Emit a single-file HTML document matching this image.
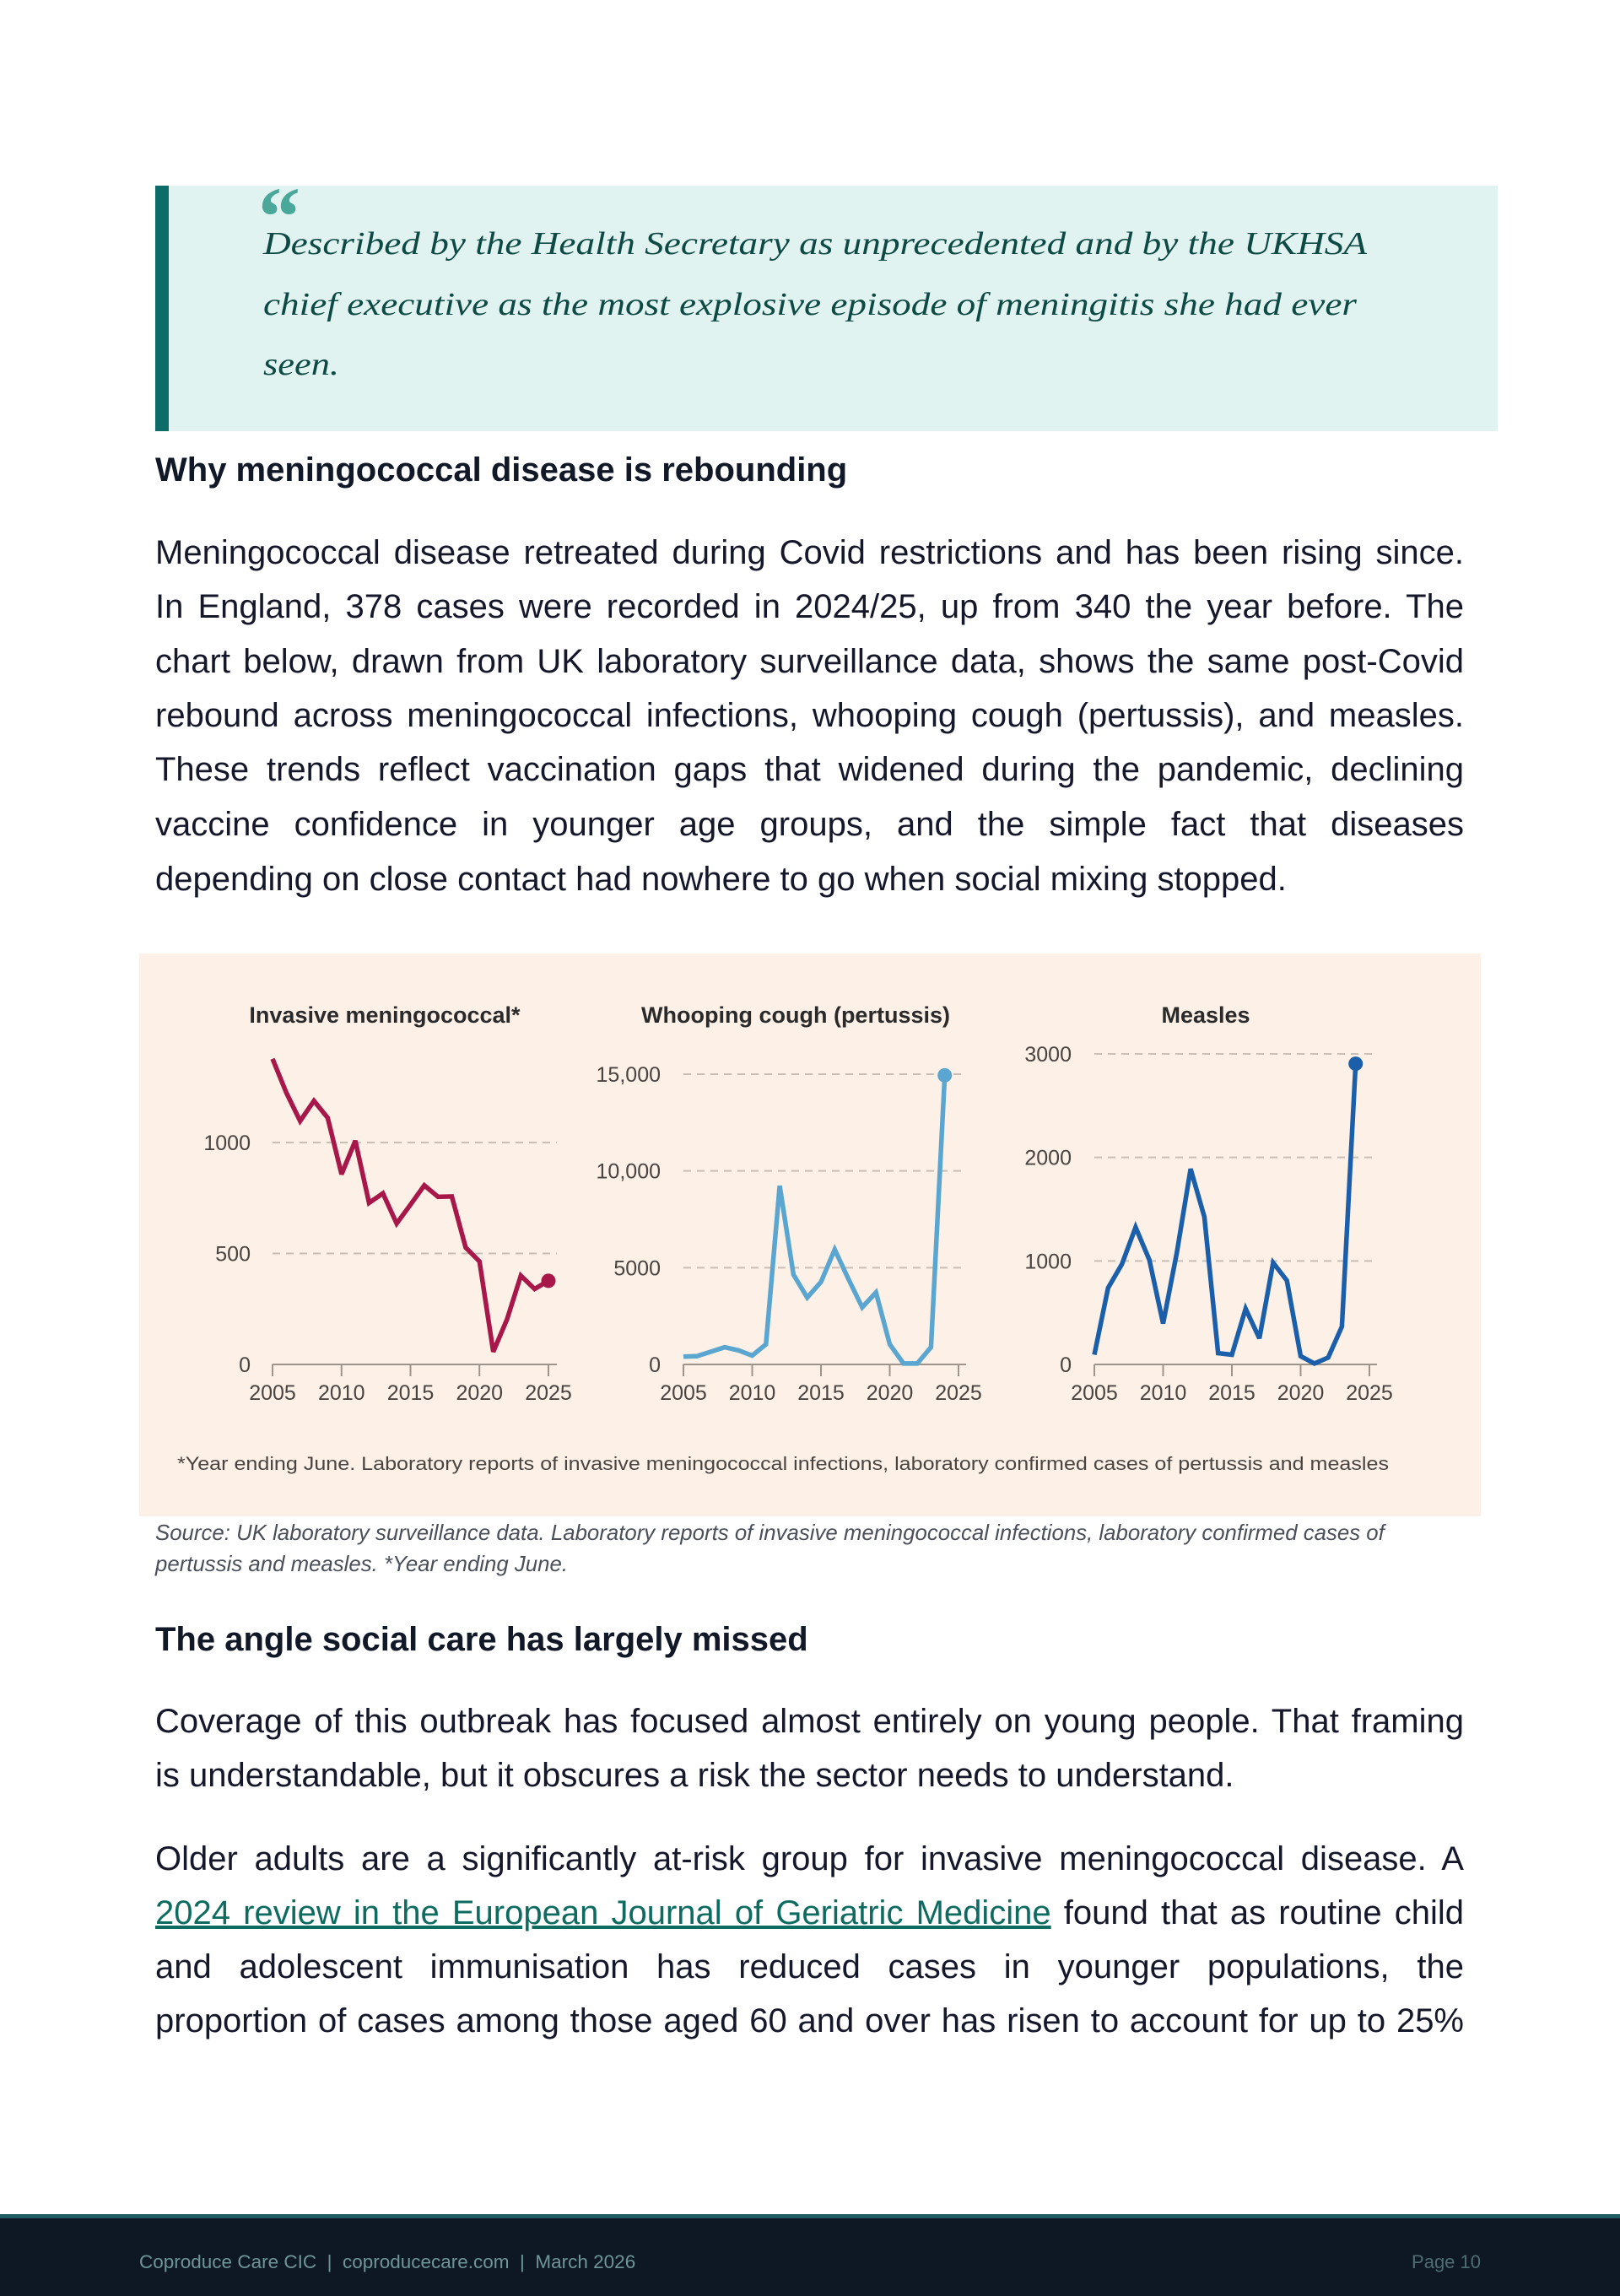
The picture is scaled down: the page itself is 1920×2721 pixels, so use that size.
<!DOCTYPE html>
<html><head><meta charset="utf-8">
<style>
html,body{margin:0;padding:0}
body{width:1920px;height:2716px;position:relative;background:#fff;overflow:hidden;font-family:"Liberation Sans",Arial,sans-serif;color:#15172a}
.abs{position:absolute}
.line{position:absolute;left:184px;width:1551px;font-size:40px;white-space:nowrap;text-align:justify;text-align-last:justify;line-height:46px}
.line.last{text-align-last:left}
.h2{position:absolute;left:184px;font-size:40px;font-weight:bold;color:#111827;line-height:46px}
a{color:#0d6b60;text-decoration:underline}
</style></head>
<body>

<div class="abs" style="left:184px;top:220px;width:1591px;height:291px;background:#e0f3f1"></div>
<div class="abs" style="left:184px;top:220px;width:16px;height:291px;background:#0d6b68"></div>
<svg class="abs" style="left:0;top:0" width="1920" height="520">
  <text x="306" y="290" font-family="Liberation Serif, serif" font-size="100" font-weight="bold" fill="#4aa89a">“</text>
  <text x="312" y="301" font-family="Liberation Serif, serif" font-style="italic" font-size="38" fill="#0e4a44" textLength="1308" lengthAdjust="spacingAndGlyphs">Described by the Health Secretary as unprecedented and by the UKHSA</text>
  <text x="312" y="373" font-family="Liberation Serif, serif" font-style="italic" font-size="38" fill="#0e4a44" textLength="1296" lengthAdjust="spacingAndGlyphs">chief executive as the most explosive episode of meningitis she had ever</text>
  <text x="312" y="444" font-family="Liberation Serif, serif" font-style="italic" font-size="38" fill="#0e4a44" textLength="90" lengthAdjust="spacingAndGlyphs">seen.</text>
</svg>

<div class="h2" style="top:534px">Why meningococcal disease is rebounding</div>

<div>
<div class="line" style="top:632px">Meningococcal disease retreated during Covid restrictions and has been rising since.</div>
<div class="line" style="top:696px">In England, 378 cases were recorded in 2024/25, up from 340 the year before. The</div>
<div class="line" style="top:761px">chart below, drawn from UK laboratory surveillance data, shows the same post-Covid</div>
<div class="line" style="top:825px">rebound across meningococcal infections, whooping cough (pertussis), and measles.</div>
<div class="line" style="top:889px">These trends reflect vaccination gaps that widened during the pandemic, declining</div>
<div class="line" style="top:954px">vaccine confidence in younger age groups, and the simple fact that diseases</div>
<div class="line last" style="top:1019px">depending on close contact had nowhere to go when social mixing stopped.</div>
</div>

<svg id="chart" class="abs" style="left:165px;top:1130px" width="1590" height="667">
  <rect x="0" y="0" width="1590" height="667" fill="#fdf0e7"></rect>
  <g id="plots" transform="translate(-165,-1130)"></g>
</svg>

<div class="abs" style="left:184px;top:1799px;width:1600px;font-size:25.8px;font-style:italic;color:#4a4f5a;line-height:37px;white-space:nowrap">Source: UK laboratory surveillance data. Laboratory reports of invasive meningococcal infections, laboratory confirmed cases of<br>pertussis and measles. *Year ending June.</div>

<div class="h2" style="top:1920px">The angle social care has largely missed</div>

<div>
<div class="line" style="top:2017px">Coverage of this outbreak has focused almost entirely on young people. That framing</div>
<div class="line last" style="top:2081px">is understandable, but it obscures a risk the sector needs to understand.</div>
</div>

<div>
<div class="line" style="top:2180px">Older adults are a significantly at-risk group for invasive meningococcal disease. A</div>
<div class="line" style="top:2244px"><a>2024 review in the European Journal of Geriatric Medicine</a> found that as routine child</div>
<div class="line" style="top:2308px">and adolescent immunisation has reduced cases in younger populations, the</div>
<div class="line" style="top:2372px">proportion of cases among those aged 60 and over has risen to account for up to 25%</div>
</div>

<div class="abs" style="left:0;top:2624px;width:1920px;height:92px;background:#0e1824;border-top:5px solid #1e5d61">
  <div class="abs" style="left:165px;top:39px;font-size:22.5px;color:#6e9597">Coproduce Care CIC &nbsp;|&nbsp; coproducecare.com &nbsp;|&nbsp; March 2026</div>
  <div class="abs" style="right:165px;top:39px;font-size:22px;color:#4d6d72">Page 10</div>
</div>

<script>
const years = [2005,2006,2007,2008,2009,2010,2011,2012,2013,2014,2015,2016,2017,2018,2019,2020,2021,2022,2023,2024,2025];
const meningoValues = [1377,1224,1097,1188,1111,857,1008,728,771,635,720,807,755,757,527,464,57,204,400,340,377];
const pertussisValues = [400,430,660,890,730,460,1040,9230,4640,3460,4260,5940,4410,2950,3720,1040,50,50,890,14940];
const measlesValues = [94,739,968,1325,1010,395,1082,1889,1425,109,94,538,252,982,810,80,9,66,366,2905];
const xTicks = [2005,2010,2015,2020,2025];
const meningoTicks = [0,500,1000];
const meningoTickLabels = ['0','500','1000'];
const pertussisTicks = [0,5000,10000,15000];
const pertussisTickLabels = ['0','5000','10,000','15,000'];
const measlesTicks = [0,1000,2000,3000];
const measlesTickLabels = ['0','1000','2000','3000'];
const titles = ['Invasive meningococcal*','Whooping cough (pertussis)','Measles'];

const NS='http://www.w3.org/2000/svg';
const root=document.getElementById('plots');
function mk(tag,attrs,parent){const e=document.createElementNS(NS,tag);for(const k in attrs)e.setAttribute(k,attrs[k]);(parent||root).appendChild(e);return e;}

function panel(cfg){
  const g=mk('g',{});
  
  
  const xs=v=>cfg.x0+(v-2005)*(cfg.x1-cfg.x0)/20;
  const ys=v=>cfg.y0-v*(cfg.y0-cfg.yTop)/cfg.yMax;
  const t=mk('text',{x:cfg.cx,y:1212,'text-anchor':'middle','font-size':27,'font-weight':'bold',fill:'#2a2a2a','font-family':'Liberation Sans, sans-serif'},g);
  t.textContent=cfg.title;
  
  
  cfg.ticks.forEach((v,i)=>{
    if(v>0){
      const gl=mk('line',{x1:cfg.x0,x2:cfg.gx,y1:ys(v),y2:ys(v),stroke:'#c9bfb7','stroke-width':2,'stroke-dasharray':'9 7'},g);
      
      
    }
    const l=mk('text',{x:cfg.lx,y:ys(v)+9,'text-anchor':'end','font-size':25,fill:'#4a4440','font-family':'Liberation Sans, sans-serif'},g);
    l.textContent=cfg.labels[i];
    
    
  });
  const ax=mk('line',{x1:cfg.x0,x2:cfg.gx,y1:cfg.y0,y2:cfg.y0,stroke:'#9e948c','stroke-width':2},g);
  
  
  xTicks.forEach(yr=>{
    const tk=mk('line',{x1:xs(yr),x2:xs(yr),y1:cfg.y0,y2:cfg.y0+14,stroke:'#9e948c','stroke-width':2},g);
    
    
    const tl=mk('text',{x:xs(yr),y:1659,'text-anchor':'middle','font-size':25,fill:'#4a4440','font-family':'Liberation Sans, sans-serif'},g);
    tl.textContent=String(yr);
    
    
  });
  const pts=cfg.values.map((v,i)=>xs(years[i]).toFixed(1)+','+ys(v).toFixed(1)).join(' ');
  const pl=mk('polyline',{points:pts,fill:'none',stroke:cfg.color,'stroke-width':5.5,'stroke-linejoin':'miter','stroke-miterlimit':3},g);
  
  
  const n=cfg.values.length-1;
  const dot=mk('circle',{cx:xs(years[n]),cy:ys(cfg.values[n]),r:8.5,fill:cfg.color},g);
  
  
}

panel({name:'meningococcal-chart',title:titles[0],values:meningoValues,ticks:meningoTicks,labels:meningoTickLabels,x0:323,x1:650,gx:660,y0:1617,yTop:1354,yMax:1000,lx:297,cx:456,color:'#a8174a'});
panel({name:'pertussis-chart',title:titles[1],values:pertussisValues,ticks:pertussisTicks,labels:pertussisTickLabels,x0:810,x1:1136,gx:1145,y0:1617,yTop:1273,yMax:15000,lx:783,cx:943,color:'#5aa6d0'});
panel({name:'measles-chart',title:titles[2],values:measlesValues,ticks:measlesTicks,labels:measlesTickLabels,x0:1297,x1:1623,gx:1632,y0:1617,yTop:1249,yMax:3000,lx:1270,cx:1429,color:'#1b5fab'});

const fn=mk('text',{x:210,y:1742,'font-size':22,fill:'#4a4440','font-family':'Liberation Sans, sans-serif',textLength:1436,lengthAdjust:'spacingAndGlyphs'});
fn.textContent='*Year ending June. Laboratory reports of invasive meningococcal infections, laboratory confirmed cases of pertussis and measles';


</script>
</body></html>
